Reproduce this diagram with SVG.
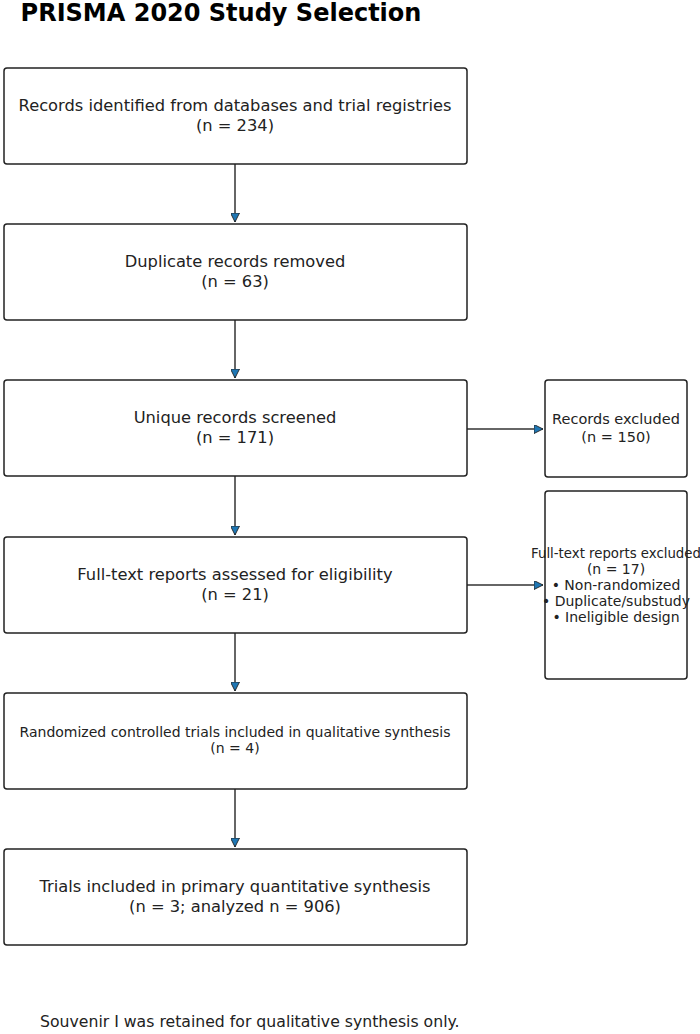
<svg xmlns="http://www.w3.org/2000/svg" width="700" height="1034" viewBox="0 0 700 1034">
<style>
text{font-family:"DejaVu Sans",sans-serif;fill:#222;text-anchor:middle}
.b{fill:#fff;stroke:#222;stroke-width:1.5}
.m{font-size:16.3px}
.s{font-size:14px}
.c{stroke:#333;stroke-width:1.5;fill:none;marker-end:url(#a)}
</style>
<defs><marker id="a" viewBox="0 0 10 10" refX="10" refY="5" markerWidth="9" markerHeight="9" orient="auto" markerUnits="userSpaceOnUse"><path d="M0,0L10,5L0,10z" fill="#1f77b4" stroke="#222" stroke-width="1"/></marker></defs>
<rect width="700" height="1034" fill="#fff"/>
<text x="221" y="21" style="font-size:24px;font-weight:bold;fill:#000">PRISMA 2020 Study Selection</text>
<g id="connectors">
<path class="c" d="M235,164V222"/><path class="c" d="M235,320V378"/><path class="c" d="M235,476V535"/><path class="c" d="M235,633V691"/><path class="c" d="M235,789V847"/>
<path class="c" d="M467,429H543"/><path class="c" d="M467,585H543"/>
</g>
<g id="n1"><rect class="b" x="4" y="68" width="463" height="96" rx="3"/><text class="m" x="235" y="111">Records identified from databases and trial registries</text><text class="m" x="235" y="131">(n = 234)</text></g>
<g id="n2"><rect class="b" x="4" y="224" width="463" height="96" rx="3"/><text class="m" x="235" y="267">Duplicate records removed</text><text class="m" x="235" y="287">(n = 63)</text></g>
<g id="n3"><rect class="b" x="4" y="380" width="463" height="96" rx="3"/><text class="m" x="235" y="423">Unique records screened</text><text class="m" x="235" y="443">(n = 171)</text></g>
<g id="n4"><rect class="b" x="4" y="537" width="463" height="96" rx="3"/><text class="m" x="235" y="580">Full-text reports assessed for eligibility</text><text class="m" x="235" y="600">(n = 21)</text></g>
<g id="n5"><rect class="b" x="4" y="693" width="463" height="96" rx="3"/><text class="s" x="235" y="737">Randomized controlled trials included in qualitative synthesis</text><text class="s" x="235" y="753">(n = 4)</text></g>
<g id="n6"><rect class="b" x="4" y="849" width="463" height="96" rx="3"/><text class="m" x="235" y="892">Trials included in primary quantitative synthesis</text><text class="m" x="235" y="912">(n = 3; analyzed n = 906)</text></g>
<g id="e1"><rect class="b" x="545" y="380" width="142" height="97" rx="3"/><text x="616" y="424" style="font-size:14.5px">Records excluded</text><text x="616" y="442" style="font-size:14.5px">(n = 150)</text></g>
<g id="e2"><rect class="b" x="545" y="491" width="142" height="188" rx="3"/><text class="s" x="616" y="558" style="font-size:13.3px">Full-text reports excluded</text><text class="s" x="616" y="574">(n = 17)</text><text class="s" x="616" y="590">• Non-randomized</text><text class="s" x="616" y="606">• Duplicate/substudy</text><text class="s" x="616" y="622">• Ineligible design</text></g>
<text x="40" y="1027" style="text-anchor:start;font-size:15.7px">Souvenir I was retained for qualitative synthesis only.</text>
</svg>
